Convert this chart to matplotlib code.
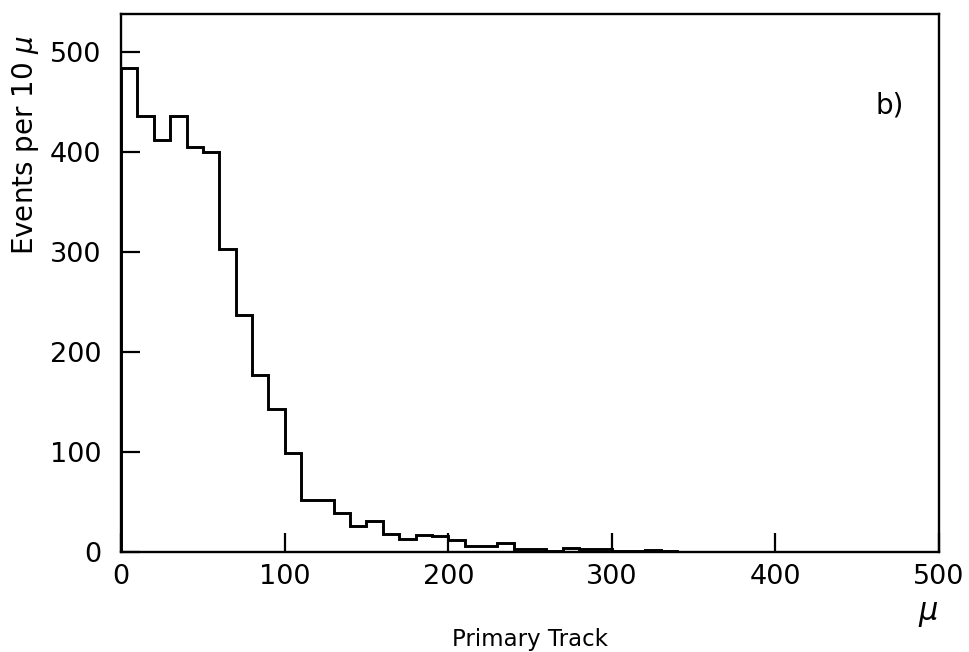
#!/usr/bin/env python3

import numpy as np
from matplotlib import pyplot as plt

# Bin edges (10 units wide) and events per bin
bin_lo = np.arange(0, 350, 10)
events = [484, 436, 412, 436, 405, 400, 303, 237, 177, 143,
          99, 52, 52, 39, 26, 31, 18, 13, 17, 16,
          12, 6, 6, 9, 3, 3, 1, 4, 3, 3,
          1, 1, 2, 1, 0]

x_ticks = [0, 100, 200, 300, 400, 500]
y_ticks = [0, 100, 200, 300, 400, 500]

plt.rcParams['font.family'] = ['DejaVu Sans']

fig = plt.figure(figsize=(9.69, 6.52), dpi=100)
ax = fig.add_axes([0.125, 0.1534, 0.844, 0.8245])

# Step histogram
edges = np.append(bin_lo, bin_lo[-1] + 10)
ax.stairs(events, edges, color='black', linewidth=2.1)

ax.set_xlim(0, 500)
ax.set_ylim(0, 538)
ax.set_xticks(x_ticks)
ax.set_yticks(y_ticks)
ax.tick_params(direction='in', length=14, width=1.6, labelsize=19.5)
ax.tick_params(axis='x', pad=9)
ax.tick_params(axis='y', pad=14)
for s in ax.spines.values():
    s.set_linewidth(1.7)

# Labels
ax.set_xlabel('Primary Track', fontsize=16.5, labelpad=27)
fig.text(26 / 969, 1 - 145 / 652, 'Events per 10 $\\mu$', rotation=90,
         ha='center', va='center', fontsize=20)
ax.text(0.987, -0.117, '$\\mu$', transform=ax.transAxes,
        ha='center', va='center', fontsize=22)
ax.text(0.94, 0.83, 'b)', transform=ax.transAxes,
        ha='center', va='center', fontsize=20)

plt.savefig('out.png', dpi=100)
